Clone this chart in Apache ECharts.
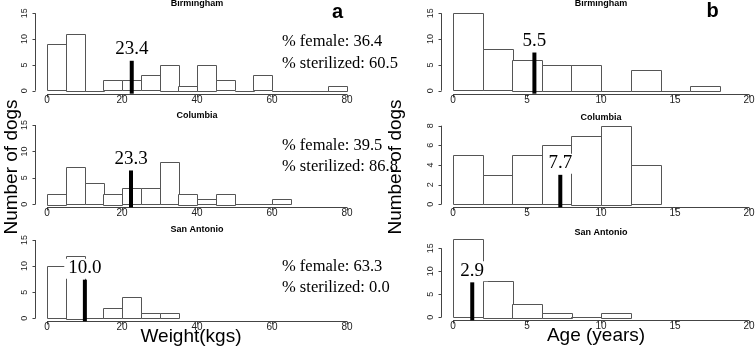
<!DOCTYPE html>
<html>
<head>
<meta charset="utf-8">
<script src="https://cdn.jsdelivr.net/npm/echarts@6/dist/echarts.min.js"></script>
<style>
  html, body { margin: 0; padding: 0; background: #fff; }
  #chart { width: 756px; height: 351px; }
</style>
</head>
<body>
<div id="chart"></div>
<script>
var cities = ["Birmingham", "Columbia", "San Antonio"];

// weight histogram (kg), 5 kg bins from 0
var weightBinWidth = 5;
var weightBirmingham = [9, 11, 0, 2, 2, 3, 5, 1, 5, 2, 0, 3, 0, 0, 0, 1];
var weightColumbia = [2, 7, 4, 2, 3, 3, 8, 2, 1, 2, 0, 0, 1];
var weightSanAntonio = [10, 12, 0, 2, 4, 1, 1];

// age histogram (years), 2 year bins from 0
var ageBinWidth = 2;
var ageBirmingham = [15, 8, 6, 5, 5, 0, 4, 0, 1];
var ageColumbia = [5, 3, 5, 6, 7, 8, 4];
var ageSanAntonio = [17, 8, 3, 1, 0, 1];

// black marker: x position, height, printed value
var weightMeanPos = [22.6, 22.4, 10.1];
var weightMeanHeight = [5.8, 6.4, 7.4];
var weightMeanLabel = ["23.4", "23.3", "10.0"];
var ageMeanPos = [5.5, 7.25, 1.3];
var ageMeanHeight = [7.4, 3.0, 7.6];
var ageMeanLabel = ["5.5", "7.7", "2.9"];

var pctFemale = ["36.4", "39.5", "63.3"];
var pctSterilized = ["60.5", "86.8", "0.0"];

// tick labels
var weightTicks = [0, 20, 40, 60, 80];
var ageTicks = [0, 5, 10, 15, 20];
var countTicks = [0, 5, 10, 15];
var countTicksColumbiaAge = [0, 2, 4, 6, 8];

var SANS = '"Liberation Sans", Arial, sans-serif';
var SERIF = '"Liberation Serif", "Times New Roman", serif';
var AXIS_COLOR = "#444";

// plot areas (pixel layout)
var grids = [
  { left: 47, top: 13.3, width: 300, height: 77.4 },
  { left: 47, top: 125, width: 300, height: 79.3 },
  { left: 47, top: 240, width: 300, height: 78.3 },
  { left: 453, top: 13.3, width: 296, height: 77.4 },
  { left: 453, top: 125.7, width: 296, height: 78.6 },
  { left: 453, top: 248.3, width: 296, height: 69 }
];

function histData(counts, w) {
  return counts.map(function(c, i) { return [i * w, (i + 1) * w, c]; });
}

function renderBins(params, api) {
  var p0 = api.coord([api.value(0), api.value(2)]);
  var p1 = api.coord([api.value(1), 0]);
  return {
    type: "rect",
    shape: { x: Math.round(p0[0]) + 0.5, y: Math.round(p0[1]) + 0.5, width: Math.round(p1[0] - p0[0]), height: Math.round(p1[1] - p0[1]) },
    style: { fill: "#fff", stroke: "#555", lineWidth: 1 }
  };
}

function meanRenderer(label) {
  return function(params, api) {
    var top = api.coord([api.value(0), api.value(1)]);
    var bot = api.coord([api.value(0), 0]);
    return {
      type: "group",
      children: [
        {
          type: "rect",
          shape: { x: top[0] - 2, y: top[1], width: 4, height: bot[1] - top[1] + 3 },
          style: { fill: "#000" }
        },
        {
          type: "text",
          x: top[0],
          y: top[1] - 1,
          style: {
            text: label,
            font: "19px " + SERIF,
            fill: "#000",
            align: "center", textAlign: "center",
            verticalAlign: "bottom", textVerticalAlign: "bottom",
            backgroundColor: "#fff",
            padding: [0, 4, 1, 4]
          }
        }
      ]
    };
  };
}

// R style axes: detached from the plot, line only between first and last tick
function axesRenderer(xTicks, yTicks) {
  return function(params, api) {
    var lineStyle = { stroke: AXIS_COLOR, lineWidth: 1 };
    var origin = api.coord([xTicks[0], yTicks[0]]);
    var xEnd = api.coord([xTicks[xTicks.length - 1], yTicks[0]]);
    var yEnd = api.coord([xTicks[0], yTicks[yTicks.length - 1]]);
    var ax = Math.round(origin[1]) + 3.5;
    var ay = Math.round(origin[0]) - 12 + 0.5;
    var kids = [
      { type: "line", shape: { x1: origin[0], y1: ax, x2: xEnd[0], y2: ax }, style: lineStyle },
      { type: "line", shape: { x1: ay, y1: origin[1], x2: ay, y2: yEnd[1] }, style: lineStyle }
    ];
    xTicks.forEach(function(t) {
      var p = api.coord([t, yTicks[0]]);
      var px = Math.round(p[0]) + 0.5;
      kids.push({ type: "line", shape: { x1: px, y1: ax, x2: px, y2: ax + 3 }, style: lineStyle });
      kids.push({
        type: "text", x: p[0], y: ax + 6,
        style: { text: String(t), font: "10px " + SANS, fill: "#222",
          align: "center", textAlign: "center", verticalAlign: "middle", textVerticalAlign: "middle" }
      });
    });
    yTicks.forEach(function(t) {
      var p = api.coord([xTicks[0], t]);
      var py = Math.round(p[1]) + 0.5;
      kids.push({ type: "line", shape: { x1: ay - 3, y1: py, x2: ay, y2: py }, style: lineStyle });
      kids.push({
        type: "text", x: ay - 10.5, y: p[1], rotation: Math.PI / 2,
        style: { text: String(t), font: "9px " + SANS, fill: "#222",
          align: "center", textAlign: "center", verticalAlign: "middle", textVerticalAlign: "middle" }
      });
    });
    return { type: "group", children: kids };
  };
}

var histSets = [
  histData(weightBirmingham, weightBinWidth),
  histData(weightColumbia, weightBinWidth),
  histData(weightSanAntonio, weightBinWidth),
  histData(ageBirmingham, ageBinWidth),
  histData(ageColumbia, ageBinWidth),
  histData(ageSanAntonio, ageBinWidth)
];
var meanPos = weightMeanPos.concat(ageMeanPos);
var meanHeight = weightMeanHeight.concat(ageMeanHeight);
var meanLabel = weightMeanLabel.concat(ageMeanLabel);

var xAxes = [], yAxes = [], series = [];
grids.forEach(function(g, i) {
  var xt = i < 3 ? weightTicks : ageTicks;
  var yt = i === 4 ? countTicksColumbiaAge : countTicks;
  xAxes.push({
    gridIndex: i, type: "value",
    min: xt[0], max: xt[xt.length - 1],
    axisLine: { show: false }, axisTick: { show: false }, axisLabel: { show: false },
    splitLine: { show: false }
  });
  yAxes.push({
    gridIndex: i, type: "value",
    min: yt[0], max: yt[yt.length - 1],
    axisLine: { show: false }, axisTick: { show: false }, axisLabel: { show: false },
    splitLine: { show: false }
  });
  series.push({
    type: "custom", xAxisIndex: i, yAxisIndex: i,
    renderItem: axesRenderer(xt, yt), clip: false,
    data: [[xt[0], yt[0]]], silent: true, z: 1
  });
  series.push({
    type: "custom", xAxisIndex: i, yAxisIndex: i,
    renderItem: renderBins, clip: false,
    encode: { x: [0, 1], y: 2 },
    data: histSets[i], silent: true, z: 2
  });
  series.push({
    type: "custom", xAxisIndex: i, yAxisIndex: i,
    renderItem: meanRenderer(meanLabel[i]), clip: false,
    encode: { x: 0, y: 1 },
    data: [[meanPos[i], meanHeight[i]]], silent: true, z: 5
  });
});

function txt(x, y, s, font, align, rot) {
  return {
    type: "text", x: x, y: y, rotation: rot || 0, silent: true,
    style: {
      text: s, font: font, fill: "#000",
      align: align || "center", textAlign: align || "center",
      verticalAlign: "middle", textVerticalAlign: "middle"
    }
  };
}

var graphics = [];
var titleY = [[4, 116, 229.5], [4, 118, 233]];
cities.forEach(function(c, i) {
  graphics.push(txt(197, titleY[0][i], c, "bold 9px " + SANS));
  graphics.push(txt(601, titleY[1][i], c, "bold 9px " + SANS));
});
var statY = [[42, 64], [146, 167], [267, 288]];
cities.forEach(function(c, i) {
  graphics.push(txt(282, statY[i][0], "% female: " + pctFemale[i], "16.5px " + SERIF, "left"));
  graphics.push(txt(282, statY[i][1], "% sterilized: " + pctSterilized[i], "16.5px " + SERIF, "left"));
});
graphics.push(txt(337.5, 12.5, "a", "bold 20px " + SANS));
graphics.push(txt(712.5, 11.5, "b", "bold 20px " + SANS));
graphics.push(txt(12, 167, "Number of dogs", "19px " + SANS, "center", Math.PI / 2));
graphics.push(txt(396, 167, "Number of dogs", "19px " + SANS, "center", Math.PI / 2));
graphics.push(txt(191, 336.5, "Weight(kgs)", "19px " + SANS));
graphics.push(txt(596, 336, "Age (years)", "19px " + SANS));

var chart = echarts.init(document.getElementById("chart"), null, { renderer: "canvas" });
chart.setOption({
  animation: false,
  backgroundColor: "#fff",
  grid: grids,
  xAxis: xAxes,
  yAxis: yAxes,
  series: series,
  graphic: graphics
});
</script>
</body>
</html>
